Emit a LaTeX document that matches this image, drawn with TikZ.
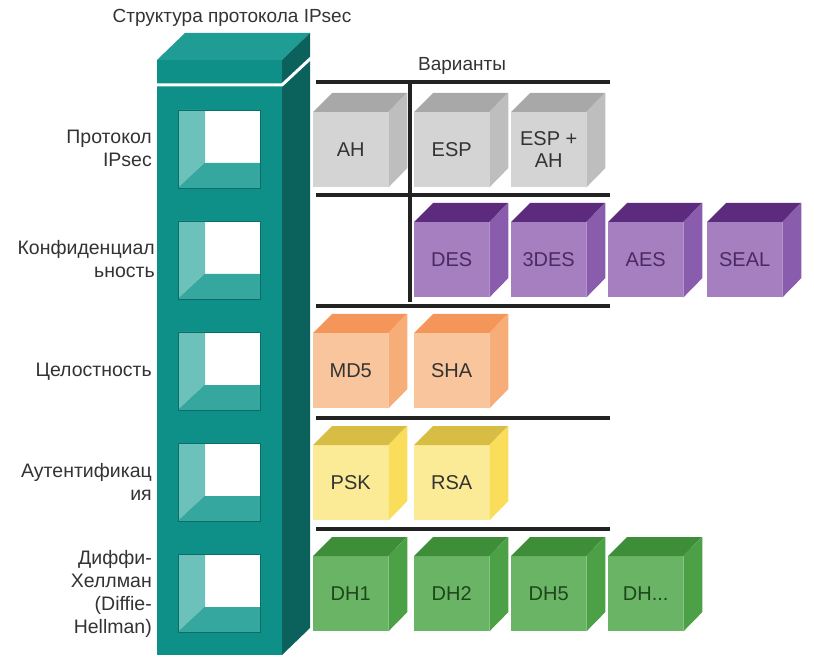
\documentclass[tikz,border=0pt]{standalone}
\usepackage{fontspec}
\setmainfont{Liberation Sans}
\definecolor{tealF}{HTML}{0E8F88}
\definecolor{tealT}{HTML}{1F9C94}
\definecolor{tealS}{HTML}{0B625C}
\definecolor{tealL}{HTML}{6CC2BB}
\definecolor{tealB}{HTML}{36A79E}
\definecolor{tealO}{HTML}{0A6D66}
\definecolor{grF}{HTML}{D4D4D4}
\definecolor{grT}{HTML}{A8A8A8}
\definecolor{grS}{HTML}{BEBEBE}
\definecolor{puF}{HTML}{A67FC0}
\definecolor{puT}{HTML}{5C2B7D}
\definecolor{puS}{HTML}{8A5CAD}
\definecolor{puX}{HTML}{4A2A60}
\definecolor{orF}{HTML}{F9C59C}
\definecolor{orT}{HTML}{F4965A}
\definecolor{orS}{HTML}{F7AD78}
\definecolor{yeF}{HTML}{FBEB96}
\definecolor{yeT}{HTML}{D8BD45}
\definecolor{yeS}{HTML}{FADD5A}
\definecolor{gnF}{HTML}{6AB565}
\definecolor{gnT}{HTML}{3E8E39}
\definecolor{gnS}{HTML}{4CA146}
\definecolor{gnX}{HTML}{1F451C}
\definecolor{txt}{HTML}{333333}
\definecolor{rule}{HTML}{222222}
\tikzset{
  cubeface/.style={minimum width=75pt, minimum height=75pt, inner sep=0pt, anchor=north west, font=\fontsize{20}{22}\selectfont, align=center},
  rowlabel/.style={anchor=east, align=right, text=txt, font=\fontsize{19.5}{23}\selectfont, inner sep=0pt},
  ruleline/.style={draw=rule, line width=3.5pt},
  headtext/.style={text=txt, font=\fontsize{19}{22}\selectfont},
}
\newcommand\mycube[8]{%
  \node[cubeface, fill=#4, text=#7] (#1) at (#2,#3) {#8};
  \fill[#5] (#1.north west) -- ++(19,-19) -- ++(75,0) -- (#1.north east) -- cycle;
  \fill[#6] (#1.north east) -- ++(19,-19) -- ++(0,75) -- (#1.south east) -- cycle;
}
\newcommand\mywindow[1]{%
  \fill[white] (205,#1) rectangle (260,#1+53);
  \fill[tealL] (178,#1) -- (205,#1) -- (205,#1+53) -- (178,#1+78) -- cycle;
  \fill[tealB] (178,#1+78) -- (205,#1+53) -- (260,#1+53) -- (260,#1+78) -- cycle;
  \draw[tealO, line width=0.8pt] (178,#1) rectangle (260,#1+78);
}
\begin{document}
\begin{tikzpicture}[x=1pt, y=-1pt]
\useasboundingbox[fill=white] (0,0) rectangle (814,668);
% column
\fill[tealF] (157,60) rectangle (282,655);
\fill[tealT] (157,60) -- (185,33) -- (310,33) -- (282,60) -- cycle;
\fill[tealS] (282,60) -- (310,33) -- (310,628) -- (282,655) -- cycle;
\draw[white, line width=3pt] (157,85) -- (282,85) -- (311,58);
\mywindow{110}
\mywindow{221}
\mywindow{332}
\mywindow{443}
\mywindow{554}
% titles
\node[headtext] (title) at (232,18) {Структура протокола IPsec};
\node[headtext] (var) at (462,66) {Варианты};
% row labels
\node[rowlabel] (l1) at (152,148) {Протокол\\IPsec};
\node[rowlabel] (l2) at (155,259) {Конфиденциал\\ьность};
\node[rowlabel] (l3) at (152,372) {Целостность};
\node[rowlabel] (l4) at (152,482) {Аутентификац\\ия};
\node[rowlabel] (l5) at (152,594) {Диффи-\\Хеллман\\(Diffie-\\Hellman)};
% rules
\draw[ruleline] (316,82) -- (610,82);
\draw[ruleline] (316,195) -- (610,195);
\draw[ruleline] (316,306) -- (610,306);
\draw[ruleline] (316,418) -- (610,418);
\draw[ruleline] (316,529) -- (610,529);
\draw[ruleline] (410,82) -- (410,302);
% cubes
\mycube{ah}{313}{112}{grF}{grT}{grS}{txt}{AH}
\mycube{esp}{414}{112}{grF}{grT}{grS}{txt}{ESP}
\mycube{espah}{511}{112}{grF}{grT}{grS}{txt}{ESP +\\AH}
\mycube{des}{414}{222}{puF}{puT}{puS}{puX}{DES}
\mycube{tdes}{511}{222}{puF}{puT}{puS}{puX}{3DES}
\mycube{aes}{608}{222}{puF}{puT}{puS}{puX}{AES}
\mycube{seal}{707}{222}{puF}{puT}{puS}{puX}{SEAL}
\mycube{md}{313}{333}{orF}{orT}{orS}{txt}{MD5}
\mycube{sha}{414}{333}{orF}{orT}{orS}{txt}{SHA}
\mycube{psk}{313}{445}{yeF}{yeT}{yeS}{txt}{PSK}
\mycube{rsa}{414}{445}{yeF}{yeT}{yeS}{txt}{RSA}
\mycube{dha}{313}{556}{gnF}{gnT}{gnS}{gnX}{DH1}
\mycube{dhb}{414}{556}{gnF}{gnT}{gnS}{gnX}{DH2}
\mycube{dhc}{511}{556}{gnF}{gnT}{gnS}{gnX}{DH5}
\mycube{dhd}{608}{556}{gnF}{gnT}{gnS}{gnX}{DH...}
\end{tikzpicture}
\end{document}
